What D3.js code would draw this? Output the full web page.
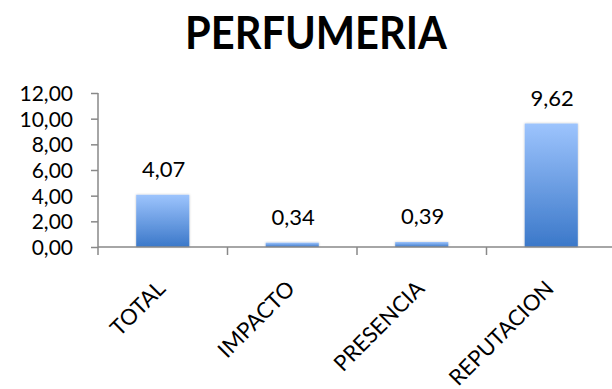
<!DOCTYPE html>
<html>
<head>
<meta charset="utf-8">
<script src="https://cdn.jsdelivr.net/npm/d3@7"></script>
<style>
  html, body { margin: 0; padding: 0; background: #fff; }
  svg { display: block; font-family: Lato, "Open Sans", "Liberation Sans", sans-serif; }
</style>
</head>
<body>
<svg id="chart" width="612" height="389"></svg>
<script>
// Chart data
const chartTitle = "PERFUMERIA";
const categories = ["TOTAL", "IMPACTO", "PRESENCIA", "REPUTACION"];
const values = [4.07, 0.34, 0.39, 9.62];
const yTicks = [0, 2, 4, 6, 8, 10, 12];

const fmt = v => d3.format(".2f")(v).replace(".", ",");

const svg = d3.select("#chart");
const plotLeft = 98, plotRight = 616, plotTop = 93, plotBottom = 247;

const x = d3.scaleBand().domain(categories).range([plotLeft, plotRight]).paddingInner(0).paddingOuter(0);
const y = d3.scaleLinear().domain([0, 12]).range([plotBottom, plotTop]);

// Bar gradient and soft edge shadow
const defs = svg.append("defs");
const grad = defs.append("linearGradient").attr("id", "barGrad")
  .attr("x1", 0).attr("y1", 0).attr("x2", 0).attr("y2", 1);
grad.append("stop").attr("offset", "0%").attr("stop-color", "#9dc4fd");
grad.append("stop").attr("offset", "100%").attr("stop-color", "#3b78c9");
const shadow = defs.append("filter").attr("id", "shadow")
  .attr("x", "-20%").attr("y", "-20%").attr("width", "140%").attr("height", "140%");
shadow.append("feDropShadow").attr("dx", 0).attr("dy", 0).attr("stdDeviation", 1.2)
  .attr("flood-color", "#000").attr("flood-opacity", 0.25);

// Title
svg.append("text")
  .attr("x", 316).attr("y", 49)
  .attr("text-anchor", "middle")
  .attr("font-size", 46).attr("font-weight", "bold")
  .attr("textLength", 262).attr("lengthAdjust", "spacingAndGlyphs")
  .attr("fill", "#000")
  .text(chartTitle);

// Bars
const barW = x.bandwidth() * 0.41;
svg.append("g").selectAll("rect").data(values).join("rect")
  .attr("x", (d, i) => x(categories[i]) + x.bandwidth() / 2 - barW / 2)
  .attr("y", d => y(d))
  .attr("width", barW)
  .attr("height", d => plotBottom - y(d))
  .attr("fill", "url(#barGrad)")
  .attr("filter", "url(#shadow)");

// Value labels
svg.append("g").selectAll("text").data(values).join("text")
  .attr("x", (d, i) => x(categories[i]) + x.bandwidth() / 2 + 1)
  .attr("y", d => y(d) - 18)
  .attr("text-anchor", "middle")
  .attr("font-size", 22)
  .attr("fill", "#000")
  .text(d => fmt(d));

// Y axis
const yAxis = svg.append("g").attr("transform", `translate(${plotLeft},0)`)
  .call(d3.axisLeft(y).tickValues(yTicks).tickFormat(fmt).tickSize(7).tickSizeOuter(0));
yAxis.select(".domain").attr("stroke", "#888").attr("stroke-width", 1.5)
  .attr("d", `M0,${plotTop}V${plotBottom + 8}`);
yAxis.selectAll(".tick line").attr("stroke", "#888").attr("stroke-width", 1.5);
yAxis.selectAll(".tick text").attr("font-size", 21).attr("fill", "#000")
  .attr("font-family", "Lato, Open Sans, sans-serif").attr("x", -25).attr("dy", "0.36em");

// X axis with ticks at category boundaries
const xg = svg.append("g").attr("transform", `translate(0,${plotBottom})`);
xg.append("line").attr("x1", plotLeft).attr("x2", plotRight).attr("y1", 0).attr("y2", 0)
  .attr("stroke", "#888").attr("stroke-width", 1.5);
xg.selectAll("line.tk").data(categories.slice(1)).join("line").attr("class", "tk")
  .attr("x1", d => x(d)).attr("x2", d => x(d)).attr("y1", 0).attr("y2", 8)
  .attr("stroke", "#888").attr("stroke-width", 1.5);

// Rotated category labels
xg.selectAll("text").data(categories).join("text")
  .attr("transform", d => `translate(${x(d) + x.bandwidth() / 2 + 4},${43}) rotate(-45)`)
  .attr("text-anchor", "end")
  .attr("font-size", 22)
  .attr("fill", "#000")
  .text(d => d);
</script>
</body>
</html>
